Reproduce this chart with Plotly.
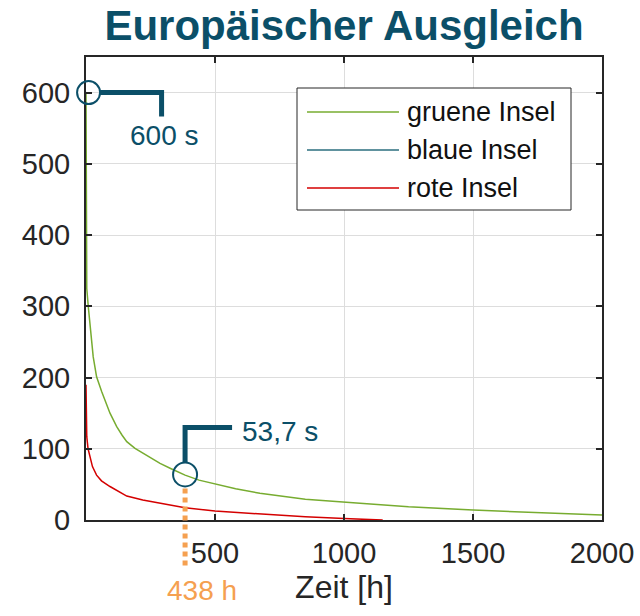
import plotly.graph_objects as go

# ---------------- data ----------------
green_x = [0, 0.5, 1.5, 3, 9, 22, 28, 41, 61, 93, 119, 140, 158, 190, 222, 287, 330, 384, 438, 493, 580, 674, 850, 1062, 1250, 1500, 1750, 2000]
green_y = [600, 450, 360, 325, 299, 252, 229, 201, 180, 150, 131, 119, 110, 100.5, 93.5, 79.5, 72, 63, 56, 51.4, 44, 37.4, 29, 23.4, 18.5, 14, 10.5, 7]

blue_x = [0, 1]
blue_y = [600, 600]

red_x = [0, 1, 3, 8, 15, 25, 41, 60, 93, 158, 220, 287, 384, 500, 674, 850, 1000, 1100, 1150]
red_y = [190, 150, 117, 100, 89, 75, 63, 55, 47, 33.6, 28, 23.4, 17.3, 12.5, 8, 4.5, 2, 0.5, 0]

series_names = ["gruene Insel", "blaue Insel", "rote Insel"]
series_colors = ["#77AC30", "#2B6E7E", "#D40000"]

x_ticks = [500, 1000, 1500, 2000]
y_ticks = [0, 100, 200, 300, 400, 500, 600]
x_range = [0, 2000]
y_range = [0, 650]

# callouts (data positions of highlighted points)
call1_x, call1_y, call1_label = 10, 600, "600 s"
call2_x, call2_y, call2_label = 384, 64, "53,7 s"
call2_time_label = "438 h"

# ---------------- layout geometry ----------------
W, H = 640, 616
ML, MR, MT, MB = 86, 38, 57, 96
PW, PH = W - ML - MR, H - MT - MB

FONT = "Liberation Sans, Arial, sans-serif"
TXT = "#262626"
TEAL = "#0B4F68"
ORANGE = "#F5A050"


def data_to_px(x, y):
    px = ML + (x - x_range[0]) / (x_range[1] - x_range[0]) * PW
    py = MT + PH - (y - y_range[0]) / (y_range[1] - y_range[0]) * PH
    return px, py


def P(px, py):
    return (px - ML) / PW, (MT + PH - py) / PH


fig = go.Figure()
for xs, ys, name, col in [(green_x, green_y, series_names[0], series_colors[0]),
                          (blue_x, blue_y, series_names[1], series_colors[1]),
                          (red_x, red_y, series_names[2], series_colors[2])]:
    fig.add_trace(go.Scatter(x=xs, y=ys, mode="lines", name=name,
                             line=dict(color=col, width=1.5), showlegend=False))

shapes = []
annotations = []

# ---- callout 1 ----
cx, cy = data_to_px(call1_x, call1_y)
r = 11.5
x0, y0 = P(cx - r, cy - r)
x1, y1 = P(cx + r, cy + r)
shapes.append(dict(type="circle", xref="paper", yref="paper", x0=x0, x1=x1, y0=y1, y1=y0,
                   line=dict(color=TEAL, width=2)))
a = P(cx + r, cy); b = P(cx + 73, cy); c = P(cx + 73, cy + 24)
shapes.append(dict(type="path", xref="paper", yref="paper",
                   path=f"M{a[0]},{a[1]} L{b[0]},{b[1]} L{c[0]},{c[1]}",
                   line=dict(color=TEAL, width=5)))
tx, ty = P(cx + 76, cy + 43)
annotations.append(dict(x=tx, y=ty, xref="paper", yref="paper", text=call1_label, showarrow=False,
                        xanchor="center", yanchor="middle", font=dict(family=FONT, size=28, color=TEAL)))

# ---- callout 2 ----
cx, cy = data_to_px(call2_x, call2_y)
r = 12
x0, y0 = P(cx - r, cy - r)
x1, y1 = P(cx + r, cy + r)
shapes.append(dict(type="circle", xref="paper", yref="paper", x0=x0, x1=x1, y0=y1, y1=y0,
                   line=dict(color=TEAL, width=2)))
a = P(cx, cy - r); b = P(cx, cy - 47); c = P(cx + 47, cy - 47)
shapes.append(dict(type="path", xref="paper", yref="paper",
                   path=f"M{a[0]},{a[1]} L{b[0]},{b[1]} L{c[0]},{c[1]}",
                   line=dict(color=TEAL, width=5)))
tx, ty = P(cx + 55, cy - 43)
annotations.append(dict(x=tx, y=ty, xref="paper", yref="paper", text=call2_label, showarrow=False,
                        xanchor="left", yanchor="middle", font=dict(family=FONT, size=28, color=TEAL)))
# orange dotted drop line
a = P(cx, cy + r + 2); b = P(cx, cy + 93)
shapes.append(dict(type="line", xref="paper", yref="paper", x0=a[0], y0=a[1], x1=b[0], y1=b[1],
                   line=dict(color=ORANGE, width=5, dash="5px,4px")))
tx, ty = P(cx + 17, cy + 116)
annotations.append(dict(x=tx, y=ty, xref="paper", yref="paper", text=call2_time_label, showarrow=False,
                        xanchor="center", yanchor="middle", font=dict(family=FONT, size=28, color=ORANGE)))

# ---- manual legend ----
lx0, ly0 = P(297, 88)
lx1, ly1 = P(571, 210)
shapes.append(dict(type="rect", xref="paper", yref="paper", x0=lx0, x1=lx1, y0=ly1, y1=ly0,
                   line=dict(color=TXT, width=1), fillcolor="white", layer="above"))
for i, (name, col) in enumerate(zip(series_names, series_colors)):
    ry = 112 + 38 * i
    a = P(307, ry); b = P(399, ry)
    shapes.append(dict(type="line", xref="paper", yref="paper", x0=a[0], y0=a[1], x1=b[0], y1=b[1],
                       line=dict(color=col, width=1.5), layer="above"))
    t = P(405, ry)
    annotations.append(dict(x=t[0], y=t[1], xref="paper", yref="paper", text=name, showarrow=False,
                            xanchor="left", yanchor="middle", font=dict(family=FONT, size=27, color="#111111")))

axis_common = dict(showline=True, linecolor=TXT, linewidth=2, mirror="ticks",
                   ticks="inside", ticklen=6, tickwidth=2, tickcolor=TXT,
                   showgrid=True, gridcolor="#DDDDDD", gridwidth=1, zeroline=False,
                   tickfont=dict(family=FONT, size=29, color=TXT))

fig.update_layout(
    width=W, height=H,
    margin=dict(l=ML, r=MR, t=MT, b=MB, autoexpand=False),
    paper_bgcolor="white", plot_bgcolor="white",
    title=dict(text="<b>Europäischer Ausgleich</b>", xref="paper", x=0.5, xanchor="center",
               yref="container", y=1 - 25 / H, yanchor="middle",
               font=dict(family=FONT, size=42, color=TEAL)),
    xaxis=dict(range=x_range, tickvals=x_ticks, ticktext=[str(v) for v in x_ticks],
               title=dict(text="Zeit [h]", font=dict(family=FONT, size=32, color=TXT), standoff=6),
               ticklabelstandoff=6, **axis_common),
    yaxis=dict(range=y_range, tickvals=y_ticks, ticklabelstandoff=8, **axis_common),
    shapes=shapes, annotations=annotations, showlegend=False,
)

fig.write_html("out.html")
